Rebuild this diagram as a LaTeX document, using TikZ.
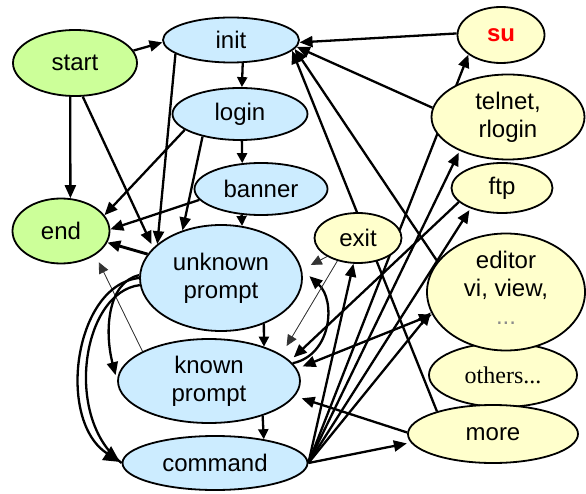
\documentclass[tikz,border=0pt]{standalone}
\usepackage{fontspec}
\setmainfont{Liberation Sans}
\newfontfamily\seriffont{Liberation Serif}
\usetikzlibrary{shapes.geometric,arrows.meta,backgrounds}

\definecolor{stateblue}{HTML}{CCECFF}
\definecolor{stategreen}{HTML}{CCFF99}
\definecolor{stateyellow}{HTML}{FFFFCC}

\begin{document}
\begin{tikzpicture}[x=1pt,y=-1pt,
  state/.style={ellipse, draw=black, line width=1.8pt, inner sep=0pt,
    align=center, font=\fontsize{24}{28}\selectfont},
  bluestate/.style={state, fill=stateblue},
  greenstate/.style={state, fill=stategreen},
  yellowstate/.style={state, fill=stateyellow},
  edge/.style={line width=2.3pt, -{Triangle[length=13pt,width=11pt]}},
  shortedge/.style={line width=2.3pt, -{Triangle[length=10pt,width=10pt]}},
  thinedge/.style={line width=0.8pt, draw=black!80, fill=black,
    -{Triangle[length=11pt,width=10pt]}},
  bigedge/.style={line width=2.3pt, -{Triangle[length=16pt,width=16pt]}},
]
\useasboundingbox (0,0) rectangle (586,494);

% states
\node[greenstate, minimum width=124pt, minimum height=66pt] (start) at (75,63) {start};
\node[bluestate, minimum width=136pt, minimum height=45pt] (init) at (231,40) {init};
\node[bluestate, minimum width=135pt, minimum height=52pt] (login) at (240,114) {login};
\node[bluestate, minimum width=133pt, minimum height=52pt] (banner) at (261,189) {banner};
\node[greenstate, minimum width=97pt, minimum height=65pt] (end) at (61,231) {end};
\node[bluestate, minimum width=162pt, minimum height=106pt] (unknown) at (221,278) {unknown\\prompt};
\node[bluestate, minimum width=182pt, minimum height=84pt] (known) at (209,381) {known\\prompt};
\node[bluestate, minimum width=185pt, minimum height=54pt] (command) at (215,463) {command};
\node[yellowstate, minimum width=87pt, minimum height=50pt] (exit) at (358,238) {exit};
\node[yellowstate, minimum width=87pt, minimum height=56pt] (su) at (501,35) {\textcolor{red}{\bfseries su}};
\node[yellowstate, minimum width=153pt, minimum height=85pt] (telnet) at (508,117) {telnet,\\rlogin};
\node[yellowstate, minimum width=101pt, minimum height=50pt] (ftp) at (502,188) {ftp};
\node[yellowstate, minimum width=148pt, minimum height=64pt,
  font=\seriffont\fontsize{24}{28}\selectfont] (others) at (503,375) {others...};
\node[yellowstate, minimum width=158pt, minimum height=117pt] (editor) at (506,292)
  {editor\\vi, view,\\\textcolor{black!45}{...}\strut};
\node[yellowstate, minimum width=170pt, minimum height=58pt] (more) at (493,434) {more};

% transitions, kept under the states
\begin{pgfonlayer}{background}
  % entry and login sequence
  \draw[edge] (start.12) -- (init.182);
  \draw[edge] (start.262) -- (end.74);
  \draw[edge, shorten >=4pt] (start.283) -- (unknown.156);
  \draw[shortedge] (init.297) -- (login.86);
  \draw[edge] (init.194) -- (unknown.152);
  \draw[edge] (login.196) -- (end.20);
  \draw[edge] (login.211) -- (unknown.129);
  \draw[shortedge] (login.274) -- (banner.126);
  \draw[edge] (banner.190) -- (end.2);
  \draw[shortedge] (banner.233) -- (unknown.68);
  \draw[edge, line width=2.9pt] (unknown.162) -- (end.346);
  \draw[thinedge, shorten >=8pt] (known.156) -- (end.325);

  % prompt chain
  \draw[shortedge] (unknown.313) -- (known.32);
  \draw[shortedge] (known.327) -- (command.26);
  \draw[edge, shorten >=6pt] (unknown.178) .. controls (108,282) and (104,330) .. (known.west);
  \draw[bigedge, shorten >=2pt] (unknown.180) .. controls (74,285) and (56,420) .. (command.west);
  \draw[line width=2.3pt] (unknown.185) .. controls (82,292) and (63,418) .. (command.west);
  \draw[edge, shorten >=10pt] (known.12) .. controls (332,355) and (336,300) .. (unknown.6);

  % exit
  \draw[thinedge, shorten >=10pt] (exit.211) -- (unknown.6);
  \draw[thinedge, shorten >=10pt] (exit.228) -- (known.20);

  % back to init
  \draw[edge] (su.178) -- (init.358);
  \draw[edge] (telnet.173) -- (init.354);
  \draw[edge] (editor.156) -- (init.352);
  \draw[edge] (more.158) -- (init.350);

  % from command to the tools
  \draw[edge, shorten >=4pt] (command.east) -- (more.186);
  \draw[edge] (command.east) -- (exit.260);
  \draw[edge] (command.east) -- (su.211);
  \draw[edge, shorten >=2pt] (command.east) -- (telnet.215);
  \draw[edge, shorten >=2pt] (command.east) -- (ftp.213);
  \draw[edge] (command.east) -- (editor.195);

  % back to known prompt
  \draw[edge, shorten >=5pt] (ftp.198) -- (known.14);
  \draw[line width=2.3pt, {Triangle[length=13pt,width=11pt]}-{Triangle[length=13pt,width=11pt]},
    shorten <=6pt] (known.8) -- (editor.197);
  \draw[edge, shorten >=7pt] (more.179) -- (known.350);
\end{pgfonlayer}
\end{tikzpicture}
\end{document}
